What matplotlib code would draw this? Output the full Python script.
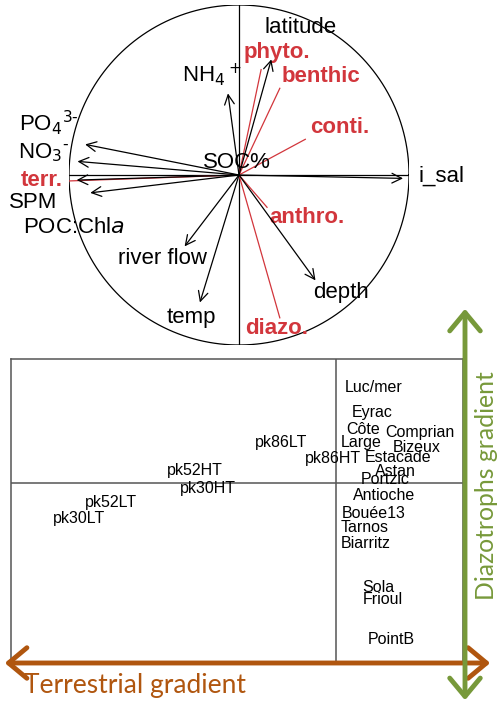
import numpy as np
import matplotlib
matplotlib.use('Agg')
from matplotlib import pyplot as plt

plt.rcParams['font.family'] = ['Liberation Sans', 'DejaVu Sans']

RED = '#d2363c'
GREEN = '#77993a'
ORANGE = '#b0560f'

# variable loadings (correlation circle)
var_names = ['i_sal', 'latitude', 'NH$_4$$^+$', 'PO$_4$$^{3\\text{-}}$', 'NO$_3$$^{\\text{-}}$',
             'SPM', 'POC:Chl$\\it{a}$', 'river flow', 'temp', 'depth']
var_x = [0.965, 0.19, -0.065, -0.905, -0.95, -0.955, -0.875, -0.32, -0.23, 0.45]
var_y = [-0.02, 0.68, 0.48, 0.18, 0.08, -0.03, -0.105, -0.42, -0.75, -0.62]
var_lx = [1.19, 0.36, -0.16, -1.12, -1.15, -1.21, -0.97, -0.45, -0.28, 0.60]
var_ly = [-0.005, 0.865, 0.59, 0.31, 0.13, -0.16, -0.31, -0.49, -0.84, -0.69]

# supplementary variables (red)
sup_names = ['phyto.', 'benthic', 'conti.', 'terr.', 'anthro.', 'diazo.']
sup_x = [0.13, 0.24, 0.39, -1.0, 0.165, 0.24]
sup_y = [0.62, 0.51, 0.21, -0.035, -0.19, -0.84]
sup_lx = [0.22, 0.48, 0.59, -1.16, 0.40, 0.22]
sup_ly = [0.72, 0.58, 0.28, -0.03, -0.25, -0.90]

# site scores
sites = ['Luc/mer', 'Eyrac', 'Côte', 'Comprian', 'Large', 'Bizeux', 'pk86HT', 'Estacade',
         'Astan', 'Portzic', 'pk86LT', 'Antioche', 'Bouée13', 'Tarnos', 'Biarritz',
         'Sola', 'Frioul', 'PointB', 'pk52HT', 'pk30HT', 'pk52LT', 'pk30LT']
site_x = [0.38, 0.36, 0.27, 0.84, 0.25, 0.81, -0.03, 0.62, 0.59, 0.49, -0.55, 0.48,
          0.38, 0.29, 0.30, 0.42, 0.47, 0.55, -1.41, -1.28, -2.25, -2.57]
site_y = [0.95, 0.70, 0.54, 0.50, 0.41, 0.35, 0.25, 0.25, 0.12, 0.03, 0.40, -0.13,
          -0.30, -0.45, -0.61, -1.04, -1.17, -1.57, 0.12, -0.05, -0.20, -0.35]

W, H = 499, 706
fig = plt.figure(figsize=(W / 100, H / 100), dpi=100)

# ---- correlation circle
ax1 = fig.add_axes([69 / W, 1 - 345 / H, 340 / W, 340 / H])
ax1.set_xlim(-1, 1)
ax1.set_ylim(-1, 1)
ax1.set_aspect('equal')
ax1.axis('off')
t = np.linspace(0, 2 * np.pi, 400)
ax1.plot(np.cos(t), np.sin(t), color='black', lw=0.9)
ax1.plot([-1, 1], [0, 0], color='black', lw=0.9)
ax1.plot([0, 0], [-1, 1], color='black', lw=0.9)

for n, x, y, lx, ly in zip(sup_names, sup_x, sup_y, sup_lx, sup_ly):
    ax1.plot([0, x], [0, y], color=RED, lw=0.9)
    ax1.text(lx, ly, n, color=RED, fontsize=16, fontweight='bold', ha='center', va='center')

for n, x, y, lx, ly in zip(var_names, var_x, var_y, var_lx, var_ly):
    ax1.annotate('', xy=(x, y), xytext=(0, 0),
                 arrowprops=dict(arrowstyle='->,head_length=0.5,head_width=0.25', lw=0.9,
                                 color='black', shrinkA=0, shrinkB=0, mutation_scale=14))
    ax1.text(lx, ly, n, fontsize=16, ha='center', va='center')
ax1.text(-0.01, 0.076, 'SOC%', fontsize=16, ha='center', va='center')

# ---- site map
ax2 = fig.add_axes([11 / W, 1 - 662 / H, 452 / W, 303 / H])
ax2.set_xlim(-3.25, 1.27)
ax2.set_ylim(-1.79, 1.24)
ax2.set_xticks([])
ax2.set_yticks([])
for s in ax2.spines.values():
    s.set_color('#555555')
    s.set_linewidth(1.1)
ax2.axhline(0, color='#555555', lw=1.1)
ax2.axvline(0, color='#555555', lw=1.1)
for n, x, y in zip(sites, site_x, site_y):
    ax2.text(x, y, n, fontsize=11.5, ha='center', va='center')

# ---- gradient arrows
fig.patches.append(matplotlib.patches.FancyArrowPatch(
    (2 / W, 1 - 663 / H), (493 / W, 1 - 663 / H), transform=fig.transFigure,
    arrowstyle='<->,head_length=0.6,head_width=0.5', mutation_scale=22, lw=3.5, color=ORANGE))
fig.patches.append(matplotlib.patches.FancyArrowPatch(
    (465 / W, 1 - 703 / H), (465 / W, 1 - 306 / H), transform=fig.transFigure,
    arrowstyle='<->,head_length=0.6,head_width=0.5', mutation_scale=22, lw=3.5, color=GREEN))
fig.text(135 / W, 1 - 686 / H, 'Terrestrial gradient', color=ORANGE, fontsize=19,
         family='Lato', ha='center', va='center')
fig.text(486 / W, 1 - 486 / H, 'Diazotrophs gradient', color=GREEN, fontsize=17.8,
         family='Lato', ha='center', va='center', rotation=90)

fig.savefig('out.png', dpi=100)
